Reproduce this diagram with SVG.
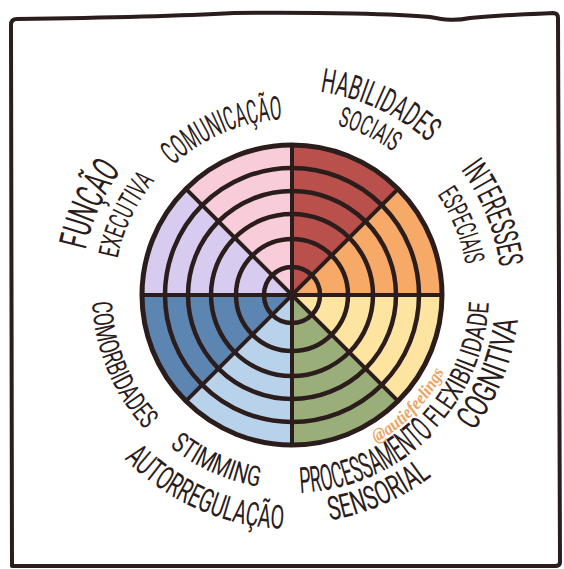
<svg xmlns="http://www.w3.org/2000/svg" xmlns:xlink="http://www.w3.org/1999/xlink" width="564" height="569" viewBox="0 0 564 569">
  <style>
    .ink { fill: none; stroke: #2b1d1c; stroke-linecap: round; stroke-linejoin: round; }
    .ring { stroke-width: 4.5; }
    .rim { stroke-width: 5; }
    .spoke { stroke-width: 4; }
    .label { font-family: Roboto, "Liberation Sans", sans-serif; font-weight: 400; fill: #2b1d1c; }
    .tag { font-family: "Liberation Serif", serif; font-style: italic; font-weight: bold; fill: #eba462; }
  </style>
  <defs>
    <!-- upper labels run clockwise, lower labels counter-clockwise -->
    <path id="p-habilidades" d="M205.5,109.3 A204,204 0 0 1 489.0,240.9"/>
    <path id="p-sociais" d="M219.1,136.0 A173,173 0 0 1 460.3,249.7"/>
    <path id="p-comunicacao" d="M124.6,242.8 A175,175 0 0 1 371.4,138.1"/>
    <path id="p-funcao" d="M102.4,386.5 A211,211 0 0 1 233.8,91.2"/>
    <path id="p-executiva" d="M130.0,367.8 A178,178 0 0 1 247.4,121.7"/>
    <path id="p-interesses" d="M357.1,94.9 A209.5,209.5 0 0 1 476.8,392.7"/>
    <path id="p-especiais" d="M346.4,126.6 A176,176 0 0 1 447.4,376.6"/>
    <path id="p-flexibilidade" d="M350.4,482.1 A197,197 0 0 0 467.1,203.8"/>
    <path id="p-cognitiva" d="M363.0,510.1 A227.5,227.5 0 0 0 492.5,186.5"/>
    <path id="p-processamento" d="M204.8,472.9 A199,199 0 0 0 483.3,348.8"/>
    <path id="p-sensorial" d="M189.6,499.4 A229.5,229.5 0 0 0 512.0,359.2"/>
    <path id="p-stimming" d="M103.8,347.1 A195.5,195.5 0 0 0 376.9,470.1"/>
    <path id="p-autorregulacao" d="M66.3,359.6 A235,235 0 0 0 395.8,504.9"/>
    <path id="p-comorbidades" d="M114.6,201.7 A200,200 0 0 0 231.9,484.7"/>
    <path id="p-tag" d="M280.7,464.6 A171,171 0 0 0 462.0,275.5"/>
  </defs>

  <!-- hand-drawn frame -->
  <path id="frame" class="ink" stroke-width="4" d="M12,565 L11,25 Q11,19 17,19 C90,18 160,17 234,13 C320,12 400,14 430,17 C445,20 455,21 470,18 C500,15 530,14 553,13 Q558,13 558,18 L560,562 Q560,566 555,566 L12,566 Z"/>

  <!-- the wheel -->
  <g id="wheel">
    <g id="sectors" stroke="none">
      <path id="sector-habilidades" fill="#b9504b" d="M292,295 L292,145 A150,150 0 0 1 398.07,188.93 Z"/>
      <path id="sector-interesses" fill="#f7a968" d="M292,295 L398.07,188.93 A150,150 0 0 1 442,295 Z"/>
      <path id="sector-flexibilidade" fill="#fde4a1" d="M292,295 L442,295 A150,150 0 0 1 398.07,401.07 Z"/>
      <path id="sector-processamento" fill="#9aae7a" d="M292,295 L398.07,401.07 A150,150 0 0 1 292,445 Z"/>
      <path id="sector-stimming" fill="#b9d2ec" d="M292,295 L292,445 A150,150 0 0 1 185.93,401.07 Z"/>
      <path id="sector-comorbidades" fill="#5c85b1" d="M292,295 L185.93,401.07 A150,150 0 0 1 142,295 Z"/>
      <path id="sector-funcao" fill="#d7ccf0" d="M292,295 L142,295 A150,150 0 0 1 185.93,188.93 Z"/>
      <path id="sector-comunicacao" fill="#f8cdd9" d="M292,295 L185.93,188.93 A150,150 0 0 1 292,145 Z"/>
    </g>
    <g id="rings" class="ink ring">
      <circle cx="292" cy="295" r="127"/>
      <circle cx="292" cy="295" r="104"/>
      <circle cx="292" cy="295" r="81"/>
      <circle cx="292" cy="295" r="56"/>
      <circle cx="292" cy="295" r="28"/>
    </g>
    <g id="spokes" class="ink spoke">
      <line x1="292" y1="145" x2="292" y2="445"/>
      <line x1="142" y1="295" x2="442" y2="295"/>
      <line x1="185.93" y1="188.93" x2="398.07" y2="401.07"/>
      <line x1="398.07" y1="188.93" x2="185.93" y2="401.07"/>
    </g>
    <circle id="rim" class="ink rim" cx="292" cy="295" r="150"/>
  </g>

  <!-- category labels -->
  <g id="label-habilidades-sociais" class="label">
    <text font-size="34" text-anchor="middle"><textPath xlink:href="#p-habilidades" href="#p-habilidades" startOffset="50%" textLength="121" lengthAdjust="spacingAndGlyphs">HABILIDADES</textPath></text>
    <text font-size="28" text-anchor="middle"><textPath xlink:href="#p-sociais" href="#p-sociais" startOffset="50%" textLength="62" lengthAdjust="spacingAndGlyphs">SOCIAIS</textPath></text>
  </g>
  <g id="label-comunicacao" class="label">
    <text font-size="33" text-anchor="middle"><textPath xlink:href="#p-comunicacao" href="#p-comunicacao" startOffset="50%" textLength="121" lengthAdjust="spacingAndGlyphs">COMUNICAÇÃO</textPath></text>
  </g>
  <g id="label-funcao-executiva" class="label">
    <text font-size="39" text-anchor="middle"><textPath xlink:href="#p-funcao" href="#p-funcao" startOffset="50%" textLength="88" lengthAdjust="spacingAndGlyphs">FUNÇÃO</textPath></text>
    <text font-size="28" text-anchor="middle"><textPath xlink:href="#p-executiva" href="#p-executiva" startOffset="50%" textLength="87" lengthAdjust="spacingAndGlyphs">EXECUTIVA</textPath></text>
  </g>
  <g id="label-interesses-especiais" class="label">
    <text font-size="34" text-anchor="middle"><textPath xlink:href="#p-interesses" href="#p-interesses" startOffset="50%" textLength="106" lengthAdjust="spacingAndGlyphs">INTERESSES</textPath></text>
    <text font-size="28" text-anchor="middle"><textPath xlink:href="#p-especiais" href="#p-especiais" startOffset="50%" textLength="76" lengthAdjust="spacingAndGlyphs">ESPECIAIS</textPath></text>
  </g>
  <g id="label-flexibilidade-cognitiva" class="label">
    <text font-size="28" text-anchor="middle"><textPath xlink:href="#p-flexibilidade" href="#p-flexibilidade" startOffset="50%" textLength="139" lengthAdjust="spacingAndGlyphs">FLEXIBILIDADE</textPath></text>
    <text font-size="34" text-anchor="middle"><textPath xlink:href="#p-cognitiva" href="#p-cognitiva" startOffset="50%" textLength="121" lengthAdjust="spacingAndGlyphs">COGNITIVA</textPath></text>
  </g>
  <g id="label-processamento-sensorial" class="label">
    <text font-size="36" text-anchor="middle"><textPath xlink:href="#p-processamento" href="#p-processamento" startOffset="50%" textLength="150" lengthAdjust="spacingAndGlyphs">PROCESSAMENTO</textPath></text>
    <text font-size="33" text-anchor="middle"><textPath xlink:href="#p-sensorial" href="#p-sensorial" startOffset="50%" textLength="112" lengthAdjust="spacingAndGlyphs">SENSORIAL</textPath></text>
  </g>
  <g id="label-stimming-autorregulacao" class="label">
    <text font-size="28" text-anchor="middle"><textPath xlink:href="#p-stimming" href="#p-stimming" startOffset="50%" textLength="99" lengthAdjust="spacingAndGlyphs">STIMMING</textPath></text>
    <text font-size="33" text-anchor="middle"><textPath xlink:href="#p-autorregulacao" href="#p-autorregulacao" startOffset="50%" textLength="178" lengthAdjust="spacingAndGlyphs">AUTORREGULAÇÃO</textPath></text>
  </g>
  <g id="label-comorbidades" class="label">
    <text font-size="28" text-anchor="middle"><textPath xlink:href="#p-comorbidades" href="#p-comorbidades" startOffset="50%" textLength="141" lengthAdjust="spacingAndGlyphs">COMORBIDADES</textPath></text>
  </g>

  <!-- signature -->
  <g id="signature" class="tag">
    <text font-size="18" text-anchor="middle"><textPath xlink:href="#p-tag" href="#p-tag" startOffset="50%" textLength="100" lengthAdjust="spacingAndGlyphs">@autiefeelings</textPath></text>
  </g>
</svg>
